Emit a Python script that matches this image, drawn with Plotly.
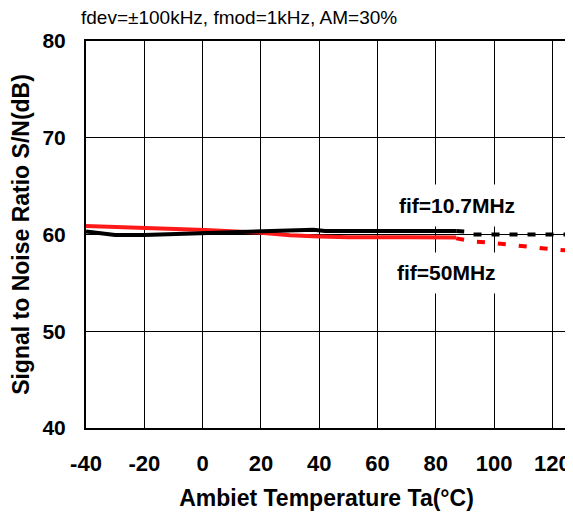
import plotly.graph_objects as go

# fif=10.7MHz (black) - measured range, then extrapolated (dashed)
temp_107 = [-40, -35, -30, -20, -15, -10, 0, 10, 20, 30, 38, 42, 60, 80, 87]
sn_107 = [60.3, 60.15, 59.95, 59.95, 60.0, 60.1, 60.2, 60.3, 60.4, 60.45, 60.5, 60.36, 60.36, 60.36, 60.36]
temp_107_ext = [87, 90, 92, 100, 110, 120, 125]
sn_107_ext = [60.36, 60.3, 60.0, 60.0, 60.0, 60.0, 60.0]

# fif=50MHz (red)
temp_50 = [-40, -30, -12, 1, 19, 30, 40, 50, 70, 87]
sn_50 = [60.88, 60.78, 60.64, 60.47, 60.2, 59.92, 59.8, 59.72, 59.72, 59.7]
temp_50_ext = [87, 92.5, 100.4, 107.5, 114.7, 122.3, 125]
sn_50_ext = [59.6, 59.3, 59.1, 58.85, 58.64, 58.4, 58.35]

x_ticks = [-40, -20, 0, 20, 40, 60, 80, 100, 120]
x_labels = ["-40", "-20", "0", "20", "40", "60", "80", "100", "120"]
y_ticks = [40, 50, 60, 70, 80]

FONT = "Liberation Sans, Arial, sans-serif"
# page body has an 8px margin, so the figure is 8px smaller than the window
W, H = 565, 509
L, R, T, B = 78, 6, 33, 89
PW, PH = W - L - R, H - T - B


def px(x):
    return (x - L) / PW


def py(y):
    return 1 - (y - T) / PH


fig = go.Figure()
fig.add_trace(go.Scatter(x=temp_50, y=sn_50, mode="lines",
                         line=dict(color="#ff1a1a", width=4), name="fif=50MHz"))
fig.add_trace(go.Scatter(x=temp_50_ext, y=sn_50_ext, mode="lines",
                         line=dict(color="#ff0000", width=4, dash="8px,13px")))
fig.add_trace(go.Scatter(x=temp_107, y=sn_107, mode="lines",
                         line=dict(color="black", width=4), name="fif=10.7MHz"))
fig.add_trace(go.Scatter(x=temp_107_ext, y=sn_107_ext, mode="lines",
                         line=dict(color="black", width=4, dash="8px,10px")))

# white boxes behind the labels hide the grid, then the label text on top
for x0, x1, y0, y1 in [(372, 537, 177, 218), (372, 537, 245, 285)]:
    fig.add_annotation(
        text=" ", xref="paper", yref="paper", x=px((x0 + x1) / 2), y=py((y0 + y1) / 2),
        xanchor="center", yanchor="middle", showarrow=False, bgcolor="white",
        width=x1 - x0, height=y1 - y0, borderpad=0,
    )
for text, xc, yc in [("fif=10.7MHz", 449, 197), ("fif=50MHz", 438, 264)]:
    fig.add_annotation(
        text=text, xref="paper", yref="paper", x=px(xc), y=py(yc),
        xanchor="center", yanchor="middle", showarrow=False,
        font=dict(family=FONT, size=21, color="black", weight="bold"),
    )

# header text above the plot
fig.add_annotation(
    text="fdev=±100kHz, fmod=1kHz, AM=30%", xref="paper", yref="paper",
    x=px(71), xanchor="left", y=py(10), yanchor="middle",
    showarrow=False, font=dict(family=FONT, size=19, color="black"),
)

fig.update_layout(
    width=W, height=H,
    paper_bgcolor="white", plot_bgcolor="white",
    showlegend=False,
    margin=dict(l=L, r=R, t=T, b=B, autoexpand=False),
)
fig.update_xaxes(
    range=[-40, 125], tickvals=x_ticks, ticktext=x_labels, automargin=False,
    showgrid=True, gridcolor="black", gridwidth=1,
    showline=True, linecolor="black", linewidth=2, mirror=True, zeroline=False,
    ticks="", ticklabelstandoff=15,
    tickfont=dict(family=FONT, size=22, color="black", weight="bold"),
    title=dict(text="Ambiet Temperature Ta(°C)", standoff=14,
               font=dict(family=FONT, size=23, color="black", weight="bold")),
)
fig.update_yaxes(
    range=[40, 80], tickvals=y_ticks, automargin=False,
    showgrid=True, gridcolor="black", gridwidth=1,
    showline=True, linecolor="black", linewidth=2, mirror=True, zeroline=False,
    ticks="", ticklabelstandoff=14,
    tickfont=dict(family=FONT, size=21, color="black", weight="bold"),
    title=dict(text="Signal to Noise Ratio S/N(dB)", standoff=10,
               font=dict(family=FONT, size=23, color="black", weight="bold")),
)

fig.write_html("out.html")
